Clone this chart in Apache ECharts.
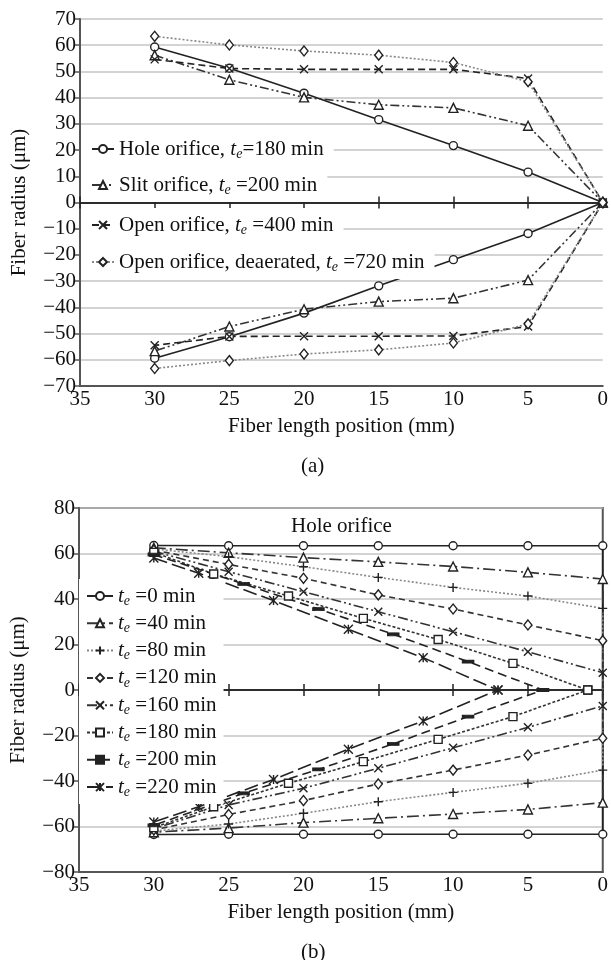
<!DOCTYPE html>
<html>
<head>
<meta charset="utf-8">
<script src="https://cdn.jsdelivr.net/npm/echarts@6/dist/echarts.min.js"></script>
<style>
html, body { margin: 0; padding: 0; background: #fff; }
#main { width: 611px; height: 960px; }
</style>
</head>
<body>
<div id="main"></div>
<script>
const FONT = "'Liberation Serif', 'DejaVu Serif', serif";

// ---- chart (a) ----
const posA = [30, 25, 20, 15, 10, 5, 0];
const holeUp = [59.3, 51.2, 41.7, 31.6, 21.7, 11.6, 0];
const holeLow = [-59.4, -51.2, -42.2, -31.8, -21.8, -11.8, 0];
const slitUp = [56.2, 46.8, 40.1, 37.3, 36.1, 29.3, 0];
const slitLow = [-56.7, -47.3, -40.7, -37.8, -36.5, -29.6, 0];
const openUp = [54.6, 51.1, 50.8, 50.8, 50.8, 47.3, 0];
const openLow = [-54.5, -51.1, -51, -51, -50.9, -47.3, 0];
const deaerUp = [63.4, 60.1, 57.8, 56.2, 53.4, 46.1, 0];
const deaerLow = [-63.3, -60.3, -57.8, -56.2, -53.6, -46.3, 0];
const namesA = ['Hole orifice, ', 'Slit orifice, ', 'Open orifice, ', 'Open orifice, deaerated, '];
const timesA = ['=180 min', ' =200 min', ' =400 min', ' =720 min'];

// ---- chart (b) ----
const posB = [30, 25, 20, 15, 10, 5, 0];
const te0Up = [63.5, 63.4, 63.4, 63.4, 63.4, 63.4, 63.4];
const te0Low = [-63.5, -63.4, -63.4, -63.4, -63.4, -63.4, -63.4];
const te40Up = [62.5, 60.3, 58.2, 56.3, 54.3, 51.7, 48.8];
const te40Low = [-62.5, -60.7, -58.3, -56.4, -54.5, -52.5, -49.5];
const te80Up = [62, 58.6, 54.2, 49.5, 45.1, 41.3, 35.9];
const te80Low = [-62, -58.9, -54.2, -49.1, -45, -41, -35.2];
const te120Up = [61.5, 55.2, 49.1, 41.8, 35.6, 28.6, 21.7];
const te120Low = [-61.5, -54.7, -48.6, -41.3, -35.2, -28.6, -21.2];
const te160Up = [61, 52, 43.2, 34.4, 25.6, 16.8, 7.6];
const te160Low = [-61, -50.5, -43.2, -34.4, -25.4, -16.4, -7];
const pos180 = [30, 26, 21, 16, 11, 6, 1];
const te180Up = [60.5, 51, 41.3, 31.5, 22.2, 11.7, 0];
const te180Low = [-60.5, -51.3, -41, -31.5, -21.7, -11.7, 0];
const pos200 = [30, 24, 19, 14, 9, 4];
const te200Up = [59.5, 46.6, 35.6, 24.5, 12.5, 0];
const te200Low = [-59.5, -45.4, -34.9, -23.7, -11.7, 0];
const pos220 = [30, 27, 22, 17, 12, 7];
const te220Up = [58, 51.3, 39.3, 26.7, 14.2, 0];
const te220Low = [-58, -51.3, -39.3, -26, -13.6, 0];
const timesB = [' =0 min', ' =40 min', ' =80 min', ' =120 min', ' =160 min', ' =180 min', ' =200 min', ' =220 min'];

// upper side from 30 mm to the tip, then back along the lower side
function outline(xs, up, low) {
    const pts = xs.map((x, i) => [x, up[i]]);
    for (let i = xs.length - 1; i >= 0; i--) pts.push([xs[i], low[i]]);
    return pts;
}

const X_MARK = 'path://M0,0L10,10M10,0L0,10';
const PLUS = 'path://M5,0L5,10M0,5L10,5';
const STAR = 'path://M0,0L10,10M10,0L0,10M5,0L5,10';

const labels = {};
function makeSeries(name, rich, data, sym, size, dash, lineColor, grid, filled) {
    labels[name] = rich;
    return {
        name: name,
        type: 'line',
        xAxisIndex: grid === 0 ? 0 : 3,
        yAxisIndex: grid,
        data: data,
        symbol: sym,
        symbolSize: size,
        showAllSymbol: true,
        lineStyle: { color: lineColor, width: 1.6, type: dash },
        itemStyle: { color: filled ? '#222' : '#fff', borderColor: '#222', borderWidth: 1.4 },
        emphasis: { disabled: true },
        animation: false
    };
}

const seriesA = [
    makeSeries('a0', '{a|' + namesA[0] + '}{i|t}{s|e}{a|' + timesA[0] + '}', outline(posA, holeUp, holeLow), 'circle', 8, 'solid', '#222', 0),
    makeSeries('a1', '{a|' + namesA[1] + '}{i|t}{s|e}{a|' + timesA[1] + '}', outline(posA, slitUp, slitLow), 'triangle', 9, [9, 3, 2, 3, 2, 3], '#333', 0),
    makeSeries('a2', '{a|' + namesA[2] + '}{i|t}{s|e}{a|' + timesA[2] + '}', outline(posA, openUp, openLow), X_MARK, 8, [7, 4], '#222', 0),
    makeSeries('a3', '{a|' + namesA[3] + '}{i|t}{s|e}{a|' + timesA[3] + '}', outline(posA, deaerUp, deaerLow), 'diamond', [8, 10], [2, 2], '#888', 0)
];

const bDefs = [
    [posB, te0Up, te0Low, 'circle', 8, 'solid', '#222'],
    [posB, te40Up, te40Low, 'triangle', 9, [12, 4, 2, 4], '#333'],
    [posB, te80Up, te80Low, PLUS, 9, [2, 2], '#888'],
    [posB, te120Up, te120Low, 'diamond', [8, 10], [6, 4], '#333'],
    [posB, te160Up, te160Low, X_MARK, 8, [10, 3, 2, 3, 2, 3], '#333'],
    [pos180, te180Up, te180Low, 'rect', 8, [3, 2], '#333'],
    [pos200, te200Up, te200Low, 'rect', [10, 3], [9, 5], '#222', true],
    [pos220, te220Up, te220Low, STAR, 9, [14, 5], '#222']
];
const seriesB = bDefs.map((d, k) => makeSeries('b' + k, '{i|t}{s|e}{a|' + timesB[k] + '}',
    outline(d[0], d[1], d[2]), d[3], d[4], d[5], d[6], 1, d[7]));

const rich = {
    a: { fontFamily: FONT, fontSize: 21, color: '#111', lineHeight: 20 },
    i: { fontFamily: FONT, fontSize: 21, fontStyle: 'italic', color: '#111', lineHeight: 20 },
    s: { fontFamily: FONT, fontSize: 14, fontStyle: 'italic', color: '#111', lineHeight: 10, padding: [10, 0, 0, 0] }
};
const txt = { fontFamily: FONT, fontSize: 21, color: '#111' };

function legendA(name, top) {
    return {
        data: [name], left: 81, top: top, orient: 'vertical', selectedMode: false,
        backgroundColor: '#fff', padding: [5, 10, 5, 10], itemWidth: 22, itemHeight: 10,
        formatter: n => labels[n], textStyle: { fontFamily: FONT, fontSize: 21, rich: rich }
    };
}

function xBottom(grid, name) {
    return {
        gridIndex: grid, type: 'value', inverse: true, min: 0, max: 35, interval: 5, position: 'bottom',
        axisLine: { onZero: false, lineStyle: { color: '#555', width: 2 } },
        axisTick: { show: false }, splitLine: { show: false },
        axisLabel: Object.assign({ margin: 3 }, txt),
        name: name, nameLocation: 'middle', nameGap: 30, nameTextStyle: txt
    };
}
function xZero(grid, yIdx, inside) {
    return {
        gridIndex: grid, type: 'value', inverse: true, min: 0, max: 35, interval: 5, position: 'bottom',
        axisLine: { onZero: true, onZeroAxisIndex: yIdx, lineStyle: { color: '#222', width: 1.5 } },
        axisTick: { show: true, inside: inside, length: 6, lineStyle: { color: '#222', width: 1.5 } },
        axisLabel: { show: false }, splitLine: { show: false }
    };
}
function yAxis(grid, lim, step) {
    return {
        gridIndex: grid, type: 'value', min: -lim, max: lim, interval: step,
        axisLine: { onZero: false, lineStyle: { color: '#555', width: 2 } },
        axisTick: { show: true, length: 5, lineStyle: { color: '#555', width: 1.5 } },
        axisLabel: Object.assign({ margin: 4, formatter: v => v < 0 ? '\u2212' + (-v) : String(v) }, txt),
        splitLine: { lineStyle: { color: '#c4c4c4', width: 1.5 } },
        name: 'Fiber radius (\u03bcm)', nameLocation: 'middle', nameGap: 50, nameTextStyle: txt
    };
}

const chart = echarts.init(document.getElementById('main'));
chart.setOption({
    backgroundColor: '#fff',
    animation: false,
    title: [
        { text: '(a)', left: 296, top: 451, textStyle: Object.assign({ fontWeight: 'normal' }, txt) },
        { text: '(b)', left: 296, top: 937, textStyle: Object.assign({ fontWeight: 'normal' }, txt) },
        { text: 'Hole orifice', left: 286, top: 511, textStyle: Object.assign({ fontWeight: 'normal' }, txt) }
    ],
    grid: [
        { left: 80, right: 4, top: 19, bottom: 574 },
        { left: 79, right: 2, top: 508, bottom: 88, show: true, borderColor: '#555', borderWidth: 2 }
    ],
    xAxis: [
        xBottom(0, 'Fiber length position (mm)'), xZero(0, 0, false), xZero(0, 0, true),
        xBottom(1, 'Fiber length position (mm)'), xZero(1, 1, false), xZero(1, 1, true)
    ],
    yAxis: [yAxis(0, 70, 10), yAxis(1, 80, 20)],
    legend: [
        legendA('a0', 132), legendA('a1', 168), legendA('a2', 208), legendA('a3', 245),
        {
            data: seriesB.map(s => s.name), left: 79, top: 579, orient: 'vertical', selectedMode: false,
            backgroundColor: '#fff', padding: [5, 7, 5, 7], itemGap: 3.3, itemWidth: 26, itemHeight: 10,
            formatter: n => labels[n], textStyle: { fontFamily: FONT, fontSize: 21, rich: rich }
        }
    ],
    series: seriesA.concat(seriesB)
});
</script>
</body>
</html>
